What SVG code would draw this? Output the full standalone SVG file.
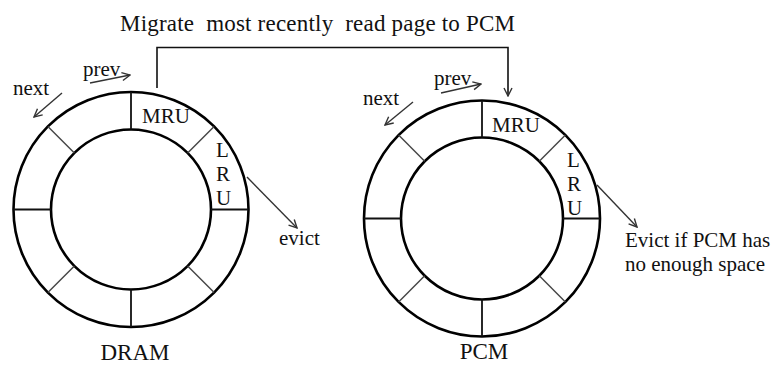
<svg xmlns="http://www.w3.org/2000/svg" width="773" height="365" viewBox="0 0 773 365" font-family="'Liberation Serif', 'Times New Roman', serif">
  <style>
    .lbl { font-size: 21px; fill: #111; }
    .big { font-size: 23px; fill: #111; }
    .ring { fill: none; stroke: #000; stroke-width: 2.6; }
    .div { stroke: #111; stroke-width: 1.8; }
    .diag { stroke: #444; stroke-width: 1.4; }
    .arr { fill: none; stroke: #333; stroke-width: 1.4; marker-end: url(#open); }
    .link { fill: none; stroke: #111; stroke-width: 1.6; }
  </style>
  <defs>
    <marker id="open" viewBox="0 0 10 10" refX="9" refY="5" markerWidth="10" markerHeight="10" markerUnits="userSpaceOnUse" orient="auto">
      <path d="M1,1 L9,5 L1,9" fill="none" stroke="#333" stroke-width="1.4"/>
    </marker>
  </defs>

  <!-- title -->
  <text class="big" x="120" y="31" xml:space="preserve" textLength="395" lengthAdjust="spacing">Migrate  most recently  read page to PCM</text>

  <!-- DRAM LRU list -->
  <g id="dram">
    <circle class="ring" cx="131" cy="209.5" r="117.5"/>
    <circle class="ring" cx="131" cy="209.5" r="80"/>
    <line class="div" x1="131" y1="92" x2="131" y2="129.5"/>
    <line class="div" x1="131" y1="289.5" x2="131" y2="327"/>
    <line class="div" x1="13.5" y1="209.5" x2="51" y2="209.5"/>
    <line class="div" x1="211" y1="209.5" x2="248.5" y2="209.5"/>
    <line class="diag" x1="47.9" y1="126.4" x2="74.4" y2="152.9"/>
    <line class="diag" x1="214.1" y1="126.4" x2="187.6" y2="152.9"/>
    <line class="diag" x1="47.9" y1="292.6" x2="74.4" y2="266.1"/>
    <line class="diag" x1="214.1" y1="292.6" x2="187.6" y2="266.1"/>
    <text class="lbl" x="142" y="123">MRU</text>
    <text class="lbl" x="216" y="157">L</text>
    <text class="lbl" x="216" y="181">R</text>
    <text class="lbl" x="216" y="205">U</text>
    <text class="lbl" x="83" y="76">prev</text>
    <text class="lbl" x="13" y="95">next</text>
    <text class="lbl" x="279" y="245">evict</text>
    <text class="big" x="135" y="360" text-anchor="middle">DRAM</text>
  </g>

  <!-- PCM LRU list -->
  <g id="pcm">
    <circle class="ring" cx="482" cy="218.5" r="118"/>
    <circle class="ring" cx="482" cy="218.5" r="81"/>
    <line class="div" x1="482" y1="100.5" x2="482" y2="137.5"/>
    <line class="div" x1="482" y1="299.5" x2="482" y2="336.5"/>
    <line class="div" x1="364" y1="218.5" x2="401" y2="218.5"/>
    <line class="div" x1="563" y1="218.5" x2="600" y2="218.5"/>
    <line class="diag" x1="398.6" y1="135.1" x2="424.7" y2="161.2"/>
    <line class="diag" x1="565.4" y1="135.1" x2="539.3" y2="161.2"/>
    <line class="diag" x1="398.6" y1="301.9" x2="424.7" y2="275.8"/>
    <line class="diag" x1="565.4" y1="301.9" x2="539.3" y2="275.8"/>
    <text class="lbl" x="492" y="132">MRU</text>
    <text class="lbl" x="567" y="167">L</text>
    <text class="lbl" x="567" y="191">R</text>
    <text class="lbl" x="567" y="215">U</text>
    <text class="lbl" x="434" y="85">prev</text>
    <text class="lbl" x="363" y="105">next</text>
    <text class="lbl" x="625" y="247">Evict if PCM has</text>
    <text class="lbl" x="625" y="271">no enough space</text>
    <text class="big" x="484" y="359" text-anchor="middle">PCM</text>
  </g>

  <!-- connectors -->
  <g id="connectors">
    <path class="link" d="M157,88 V47.5 H508 V96" marker-end="url(#open)"/>
    <line class="arr" x1="90" y1="83" x2="130" y2="75"/>
    <line class="arr" x1="62" y1="93" x2="34" y2="117"/>
    <line class="arr" x1="247" y1="177" x2="297" y2="228"/>
    <line class="arr" x1="441" y1="93" x2="481" y2="84"/>
    <line class="arr" x1="413" y1="102" x2="385" y2="125"/>
    <line class="arr" x1="597" y1="185" x2="637" y2="227"/>
  </g>
</svg>
